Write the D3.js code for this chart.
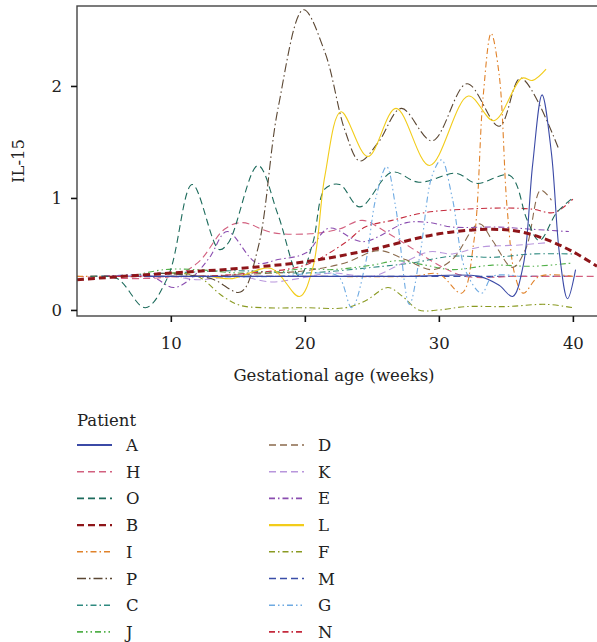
<!DOCTYPE html>
<html>
<head>
<meta charset="utf-8">
<script src="https://cdn.jsdelivr.net/npm/d3@7"></script>
<style>
  body { margin: 0; background: #fff; }
  svg text { font-family: "DejaVu Serif", "Liberation Serif", serif; fill: #222; }
</style>
</head>
<body>
<script>
(function() {

    // patients in legend order (two columns)
    var patients = ["A", "H", "O", "B", "I", "P", "C", "J", "D", "K", "E", "L", "F", "M", "G", "N"];

    // [week, IL-15]
    var serA = [[8,0.3],[15,0.3],[22,0.3],[28,0.3],[33,0.3],[34.5,0.22],[35.5,0.12],[36.3,0.4],[37,1.3],[37.7,1.92],[38.4,1.4],[39,0.5],[39.6,0.1],[40.2,0.36]];
    var serH = [[3,0.3],[10,0.3],[12,0.42],[14,0.72],[15.3,0.78],[17.6,0.69],[20.4,0.68],[22.5,0.72],[24.3,0.8],[26,0.7],[28,0.55],[30,0.4],[32,0.3],[36,0.3],[41.8,0.3]];
    var serO = [[4,0.3],[6,0.28],[8.1,0.02],[9.8,0.3],[11.6,1.12],[13.6,0.54],[14.3,0.6],[16.5,1.29],[18,0.85],[19.6,0.3],[20.6,0.6],[21.5,1.08],[22.6,1.12],[24.1,0.92],[26.5,1.23],[28.5,1.14],[31.3,1.22],[32.8,1.13],[35.3,1.2],[36.6,0.8],[37.5,0.62],[38.8,0.87],[40,1.0]];
    var serB = [[3,0.27],[10,0.33],[15,0.37],[20,0.43],[25,0.54],[30,0.68],[34,0.72],[36,0.7],[38,0.63],[40,0.52],[41.8,0.39]];
    var serI = [[3,0.3],[10,0.3],[20,0.3],[28,0.3],[30,0.32],[31.7,0.15],[32.6,0.6],[33.3,1.9],[33.9,2.47],[34.5,2.1],[35.1,0.9],[35.7,0.3],[36.3,0.15],[37.5,0.3],[40,0.3]];
    var serP = [[9,0.33],[13,0.28],[15.2,0.16],[16.5,0.55],[18,1.8],[19.9,2.68],[21.5,2.3],[23,1.6],[24.1,1.33],[25.5,1.5],[27.2,1.8],[29.5,1.51],[32.1,2.02],[34.5,1.64],[36.1,2.07],[38.9,1.45]];
    var serC = [[5,0.3],[10,0.33],[15,0.35],[20,0.33],[25,0.38],[28,0.42],[31,0.48],[34,0.47],[37,0.5],[40,0.5]];
    var serJ = [[7,0.3],[9.5,0.36],[12,0.36],[15,0.33],[18,0.34],[20,0.37],[22,0.36],[25,0.4],[27,0.44],[29,0.4],[31,0.36],[34,0.4],[37,0.39],[40,0.42]];
    var serD = [[8,0.3],[12,0.3],[16,0.32],[20,0.35],[23,0.42],[25.5,0.53],[27.5,0.45],[29.5,0.36],[31,0.45],[33,0.77],[34,0.62],[35.5,0.38],[36.5,0.55],[37.6,1.07],[38.4,0.98]];
    var serK = [[6,0.3],[10,0.3],[12,0.27],[15,0.3],[17.5,0.25],[19.5,0.28],[22,0.33],[25,0.3],[27,0.4],[29.3,0.52],[31,0.5],[33,0.56],[36,0.58],[38,0.6]];
    var serE = [[5,0.3],[8.5,0.3],[10.2,0.2],[11.5,0.28],[12.9,0.47],[14.2,0.7],[16.4,0.42],[18,0.45],[20.1,0.51],[21.8,0.73],[24.3,0.61],[27.6,0.78],[29.3,0.78],[31,0.74],[34.5,0.74],[37,0.72],[39.7,0.7]];
    var serL = [[13,0.3],[14.6,0.28],[17.5,0.37],[19.6,0.12],[20.6,0.38],[21.5,1.2],[22.7,1.77],[24.7,1.37],[26.8,1.8],[29.3,1.29],[32.2,1.91],[34.1,1.69],[36.2,2.07],[37,2.05],[38,2.15]];
    var serF = [[10,0.33],[12,0.3],[13.9,0.12],[15.2,0.04],[17,0.02],[20,0.02],[23,0.02],[24.5,0.08],[26.2,0.2],[27.3,0.12],[28.5,0.0],[30,0.0],[32,0.03],[35,0.03],[38,0.05],[40,0.02]];
    var serM = [[4,0.3],[12,0.3],[20,0.3],[28,0.3],[34,0.3],[40,0.3]];
    var serG = [[10,0.3],[18,0.3],[21,0.33],[22.5,0.3],[23.5,0.02],[24.5,0.4],[25.3,1.0],[26.1,1.28],[26.8,0.9],[27.8,0.05],[28.6,0.5],[29.5,1.2],[30.2,1.34],[31,1.0],[32,0.35],[33.2,0.15],[34,0.3],[36,0.3]];
    var serN = [[5,0.3],[12,0.3],[16,0.33],[20,0.4],[23,0.6],[24.5,0.74],[26.5,0.8],[29,0.87],[32,0.9],[35,0.91],[37,0.9],[38.6,0.87],[40,0.99]];

    var xTicks = [10, 20, 30, 40];
    var yTicks = [0, 1, 2];

    var series = {A: serA, H: serH, O: serO, B: serB, I: serI, P: serP, C: serC, J: serJ,
                  D: serD, K: serK, E: serE, L: serL, F: serF, M: serM, G: serG, N: serN};

    var dashed = "7,4",
        dashDot = "6,3,1.5,3",
        longDashDot = "9,3,1.5,3",
        dashDotDot = "6,3,1.5,3,1.5,3";

    var colors = {A: "#3b4aa6", H: "#d2607f", O: "#1d6b5c", B: "#8e1519", I: "#e0822a", P: "#5a4632",
                  C: "#2f8a80", J: "#52b04a", D: "#8a6a4c", K: "#b896dc", E: "#8a4db0", L: "#f2cc1a",
                  F: "#8a9a22", M: "#3a4ea8", G: "#6eaae2", N: "#c42a3c"};
    var dashes = {A: null, H: dashed, O: dashed, B: dashed, I: dashDot, P: longDashDot,
                  C: dashDot, J: dashDotDot, D: dashed, K: dashed, E: dashDot, L: null,
                  F: dashDot, M: dashed, G: dashDotDot, N: dashDot};

    var width = 597, height = 642;
    var left = 77, right = 597, top = 6, bottom = 316;
    var fontSize = "16.5px";

    var svg = d3.select("body").append("svg")
        .attr("width", width)
        .attr("height", height);

    var x = d3.scaleLinear().domain([3, 41.8]).range([left, right]);
    var y = d3.scaleLinear().domain([-0.054, 2.714]).range([bottom, top]);

    svg.append("clipPath").attr("id", "plotclip")
        .append("rect")
        .attr("x", left).attr("y", top)
        .attr("width", right - left).attr("height", bottom - top);

    var line = d3.line()
        .x(function(d){ return x(d[0]); })
        .y(function(d){ return y(d[1]); })
        .curve(d3.curveCatmullRom.alpha(0.5));

    var drawOrder = ["M", "H", "I", "C", "J", "K", "D", "F", "E", "N", "O", "G", "P", "L", "A", "B"];

    svg.append("g")
        .attr("clip-path", "url(#plotclip)")
        .selectAll("path")
        .data(drawOrder)
        .enter()
        .append("path")
        .attr("d", function(p){ return line(series[p]); })
        .attr("fill", "none")
        .attr("stroke", function(p){ return colors[p]; })
        .attr("stroke-width", function(p){ return p == "B" ? 3 : 1.1; })
        .attr("stroke-dasharray", function(p){ return dashes[p]; });

    // frame
    svg.append("rect")
        .attr("x", left).attr("y", top)
        .attr("width", right - left + 4).attr("height", bottom - top)
        .attr("fill", "none")
        .attr("stroke", "#444")
        .attr("stroke-width", 1.4);

    var xAxis = svg.append("g")
        .attr("transform", "translate(0," + bottom + ")")
        .call(d3.axisBottom(x).tickValues(xTicks).tickSize(6).tickPadding(15).tickFormat(d3.format("d")));
    var yAxis = svg.append("g")
        .attr("transform", "translate(" + left + ",0)")
        .call(d3.axisLeft(y).tickValues(yTicks).tickSize(6).tickPadding(9).tickFormat(d3.format("d")));

    [xAxis, yAxis].forEach(function(ax){
        ax.select(".domain").remove();
        ax.selectAll(".tick line").attr("stroke", "#111").attr("stroke-width", 1.6);
        ax.selectAll(".tick text")
            .style("font-family", "'DejaVu Serif', 'Liberation Serif', serif")
            .style("font-size", fontSize)
            .attr("fill", "#222");
    });

    svg.append("text")
        .attr("x", (left + right) / 2 - 3)
        .attr("y", 381)
        .attr("text-anchor", "middle")
        .style("font-size", fontSize)
        .text("Gestational age (weeks)");

    svg.append("text")
        .attr("transform", "translate(24," + (top + bottom) / 2 + ") rotate(-90)")
        .attr("text-anchor", "middle")
        .style("font-size", fontSize)
        .text("IL-15");

    // legend
    var legend = svg.append("g");
    legend.append("text")
        .attr("x", 77).attr("y", 426)
        .style("font-size", fontSize)
        .text("Patient");

    var rows = legend.selectAll(".legendRow")
        .data(patients)
        .enter()
        .append("g")
        .attr("class", "legendRow")
        .attr("transform", function(d, i){
            var col = Math.floor(i / 8), row = i % 8;
            return "translate(" + (col == 0 ? 77 : 269) + "," + (445 + row * 26.7) + ")";
        });

    rows.append("line")
        .attr("x1", 0).attr("x2", 35)
        .attr("stroke", function(p){ return colors[p]; })
        .attr("stroke-width", function(p){ return p == "B" || p == "A" || p == "L" ? 2.2 : 1.6; })
        .attr("stroke-dasharray", function(p){ return dashes[p]; });

    rows.append("text")
        .attr("x", 49).attr("y", 6)
        .style("font-size", fontSize)
        .text(function(p){ return p; });

})();
</script>
</body>
</html>
